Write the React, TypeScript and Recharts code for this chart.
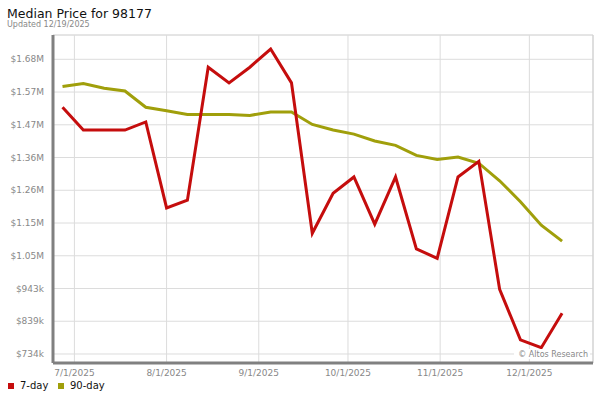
import React from 'react';
import { LineChart, Line, XAxis, YAxis, CartesianGrid, ReferenceLine } from 'recharts';

// weekly points, Fridays
const dates = [
  '2025-06-27', '2025-07-04', '2025-07-11', '2025-07-18', '2025-07-25',
  '2025-08-01', '2025-08-08', '2025-08-15', '2025-08-22', '2025-08-29',
  '2025-09-05', '2025-09-12', '2025-09-19', '2025-09-26', '2025-10-03',
  '2025-10-10', '2025-10-17', '2025-10-24', '2025-10-31', '2025-11-07',
  '2025-11-14', '2025-11-21', '2025-11-28', '2025-12-05', '2025-12-12',
];

const sevenDay = [
  1523000, 1450000, 1450000, 1450000, 1476000,
  1201000, 1226000, 1651000, 1601000, 1651000,
  1709000, 1601000, 1120000, 1248000, 1300000,
  1149000, 1300000, 1070000, 1040000, 1300000,
  1350000, 941000, 779000, 754000, 864000,
];

const ninetyDay = [
  1589000, 1599000, 1584000, 1575000, 1523000,
  1512000, 1500000, 1500000, 1500000, 1497000,
  1508000, 1508000, 1468000, 1450000, 1437000,
  1415000, 1401000, 1369000, 1356000, 1364000,
  1344000, 1288000, 1221000, 1146000, 1095000,
];

const yTicks = [734000, 838700, 943400, 1048100, 1152800, 1257500, 1362200, 1466900, 1571600, 1676300];
const yTickLabels = ['$734k', '$839k', '$943k', '$1.05M', '$1.15M', '$1.26M', '$1.36M', '$1.47M', '$1.57M', '$1.68M'];

const xTickDates = ['2025-07-01', '2025-08-01', '2025-09-01', '2025-10-01', '2025-11-01', '2025-12-01'];
const xTickLabels = ['7/1/2025', '8/1/2025', '9/1/2025', '10/1/2025', '11/1/2025', '12/1/2025'];

const RED = '#c50d0d';
const OLIVE = '#a09f0b';
const FONT = '"DejaVu Sans", Verdana, sans-serif';

const toDay = (s: string) => {
  const [y, m, d] = s.split('-').map(Number);
  return Date.UTC(y, m - 1, d) / 86400000;
};

const data = dates.map((d, i) => ({ day: toDay(d), seven: sevenDay[i], ninety: ninetyDay[i] }));
const xTicks = xTickDates.map(toDay);
const xMin = xTicks[0] - 7.2;
const xMax = xTicks[0] + 174.4;
const yMin = 705200;
const yMax = 1754000;

export default function App() {
  return (
    <div style={{ position: 'absolute', left: 0, top: 0, width: 600, height: 400, background: '#fff', fontFamily: FONT }}>
      <LineChart width={600} height={400} data={data} margin={{ top: 35, right: 7, bottom: 17, left: 0 }}>
        <CartesianGrid stroke="#dcdcdc" strokeWidth={1} />
        <ReferenceLine y={yMax} stroke="#dcdcdc" strokeWidth={1} />
        <ReferenceLine x={xMax} stroke="#cfcfcf" strokeWidth={1} />
        <XAxis
          type="number"
          dataKey="day"
          domain={[xMin, xMax]}
          ticks={xTicks}
          tickFormatter={(v: number, i: number) => xTickLabels[i]}
          axisLine={{ stroke: '#808080', strokeWidth: 3 }}
          tickLine={false}
          tickSize={0}
          tickMargin={7}
          height={20}
          tick={{ fill: '#888', fontSize: 9, fontFamily: FONT }}
          interval={0}
        />
        <YAxis
          type="number"
          domain={[yMin, yMax]}
          ticks={yTicks}
          tickFormatter={(v: number, i: number) => yTickLabels[i]}
          axisLine={{ stroke: '#808080', strokeWidth: 3 }}
          tickLine={false}
          tickSize={0}
          tickMargin={9}
          width={53}
          tick={{ fill: '#888', fontSize: 9, fontFamily: FONT }}
          interval={0}
          allowDataOverflow
        />
        <Line type="linear" dataKey="ninety" stroke={OLIVE} strokeWidth={3} dot={false} isAnimationActive={false} />
        <Line type="linear" dataKey="seven" stroke={RED} strokeWidth={3} dot={false} isAnimationActive={false} />
      </LineChart>
      <svg width={600} height={400} style={{ position: 'absolute', left: 0, top: 0, pointerEvents: 'none' }}>
        <text x={7} y={18} fontSize={12.5} fill="#111" fontFamily={FONT}>Median Price for 98177</text>
        <text x={7} y={27} fontSize={8} fill="#888" fontFamily={FONT}>Updated 12/19/2025</text>
        <rect x={514} y={349} width={76} height={10} fill="#fff" />
        <text x={588} y={357} fontSize={8} fill="#888" textAnchor="end" fontFamily={FONT}>© Altos Research</text>
        <rect x={8} y={383} width={6} height={6} fill={RED} />
        <text x={20} y={389} fontSize={10} fill="#111" fontFamily={FONT}>7-day</text>
        <rect x={58} y={383} width={6} height={6} fill={OLIVE} />
        <text x={70} y={389} fontSize={10} fill="#111" fontFamily={FONT}>90-day</text>
      </svg>
    </div>
  );
}
